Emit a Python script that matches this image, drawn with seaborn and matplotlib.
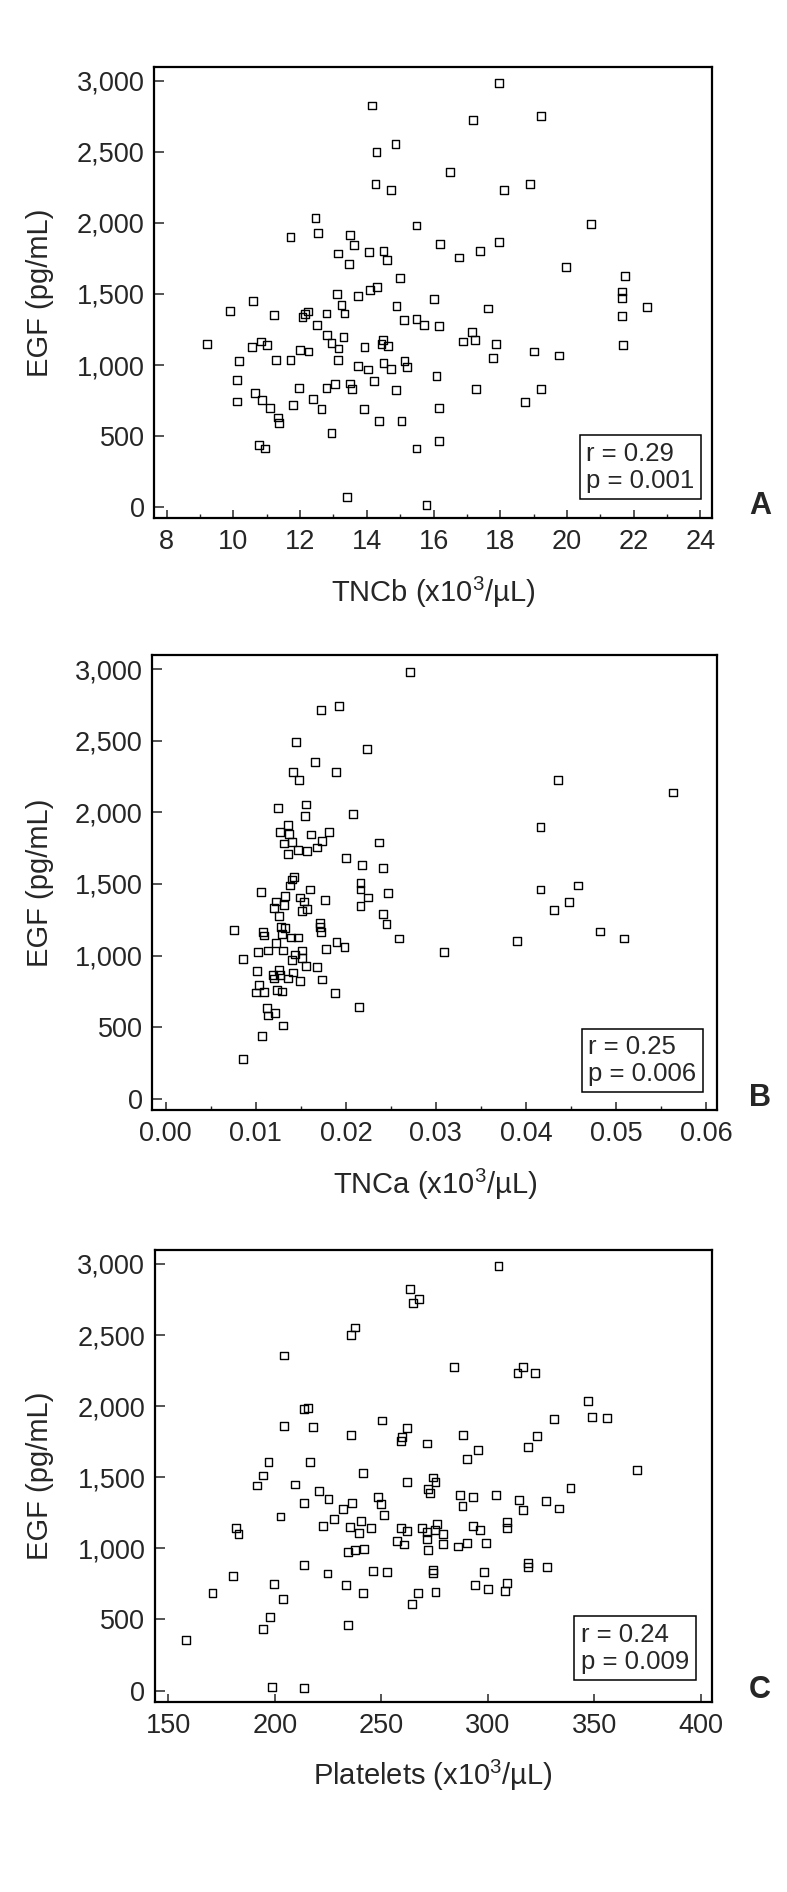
import matplotlib
matplotlib.use("Agg")
import matplotlib.pyplot as plt
import matplotlib.ticker as mticker
import seaborn as sns

# Panel A: TNCb vs EGF
tncb = [14.15, 14.29, 14.86, 14.26, 14.72, 12.46, 12.53, 11.71, 13.50, 13.62, 15.49, 13.14,
        14.06, 14.50, 14.60, 13.47, 14.99, 13.10, 14.10, 14.30, 13.73, 13.24, 14.89, 10.58,
        9.91, 11.21, 12.07, 12.24, 12.15, 12.79, 13.33, 15.11, 15.49, 12.50, 12.80, 13.30,
        9.20, 10.55, 10.82, 11.00, 12.94, 13.15, 13.93, 14.48, 14.44, 14.63, 12.00, 12.25,
        10.17, 11.28, 11.71, 13.14, 13.73, 14.03, 14.50, 14.72, 15.13, 15.21, 10.12, 10.65,
        10.85, 11.10, 10.12, 11.34, 11.37, 11.78, 11.97, 12.38, 12.64, 12.79, 13.04, 13.50,
        13.55, 14.22, 13.92, 14.87, 14.37, 15.04, 12.94, 10.76, 10.95, 15.49, 13.40,
        17.95, 17.17, 19.22, 16.50, 18.10, 18.89, 20.72, 16.20, 17.95, 16.76, 17.39, 19.97,
        21.73, 21.65, 21.65, 21.65, 21.69, 22.40, 16.01, 17.62, 15.71, 16.17, 17.16, 16.87,
        17.25, 17.88, 19.00, 19.75, 17.77, 16.09, 17.28, 19.22, 18.74, 16.16, 16.16, 15.79]
egf_a = [2825, 2501, 2553, 2276, 2232, 2035, 1927, 1901, 1917, 1845, 1981, 1784,
         1793, 1803, 1739, 1711, 1613, 1498, 1528, 1547, 1486, 1425, 1416, 1451,
         1381, 1352, 1336, 1376, 1359, 1362, 1362, 1317, 1324, 1280, 1209, 1200,
         1146, 1125, 1165, 1142, 1153, 1116, 1125, 1174, 1146, 1134, 1106, 1095,
         1029, 1038, 1038, 1038, 994, 968, 1013, 975, 1029, 987, 893, 806,
         755, 699, 743, 631, 593, 717, 841, 759, 689, 841, 867, 870,
         834, 886, 689, 825, 609, 609, 520, 438, 413, 413, 70,
         2984, 2724, 2752, 2356, 2232, 2276, 1990, 1854, 1863, 1756, 1803, 1692,
         1629, 1517, 1470, 1343, 1142, 1406, 1467, 1397, 1282, 1273, 1235, 1165,
         1174, 1146, 1095, 1067, 1048, 924, 832, 832, 741, 699, 466, 16]

# Panel B: TNCa vs EGF
tnca = [0.0271, 0.01723, 0.01926, 0.01449, 0.02233, 0.01656, 0.01416, 0.01475, 0.01889, 0.01242,
        0.0156, 0.01545, 0.02081, 0.01353, 0.01264, 0.01368, 0.01309, 0.01405, 0.01608, 0.01808,
        0.01734, 0.01678, 0.01464, 0.01571, 0.01353, 0.0237, 0.0200, 0.02181, 0.0241, 0.01427,
        0.01405, 0.01375, 0.01597, 0.01061, 0.02163, 0.02163, 0.02244, 0.02466, 0.01323, 0.0149,
        0.01227, 0.01316, 0.01205, 0.01538, 0.01564, 0.01516, 0.01767, 0.02163, 0.0241, 0.02451,
        0.01253, 0.00754, 0.01083, 0.01091, 0.01283, 0.0132, 0.01294, 0.01712, 0.01715, 0.01719,
        0.01386, 0.01464, 0.02591, 0.0122, 0.01131, 0.0102, 0.01305, 0.01896, 0.01985, 0.01778,
        0.01516, 0.01438, 0.01397, 0.01508, 0.00854, 0.01556, 0.01682, 0.01017, 0.01253, 0.0119,
        0.01272, 0.01412, 0.01197, 0.01353, 0.0149, 0.01734, 0.01035, 0.01002, 0.01091, 0.01238,
        0.01287, 0.01878, 0.01128, 0.01131, 0.01213, 0.01298, 0.02148, 0.01072, 0.00854,
        0.04358, 0.05635, 0.04162, 0.04162, 0.04579, 0.0448, 0.04314, 0.04823, 0.05085, 0.0390,
        0.03085]
egf_b = [2982, 2714, 2742, 2493, 2440, 2349, 2279, 2226, 2279, 2028,
         2054, 1977, 1986, 1914, 1863, 1847, 1782, 1791, 1845, 1863,
         1800, 1754, 1738, 1728, 1710, 1789, 1684, 1631, 1612, 1551,
         1531, 1489, 1461, 1442, 1507, 1461, 1405, 1435, 1417, 1405,
         1377, 1354, 1333, 1377, 1328, 1312, 1389, 1344, 1291, 1223,
         1277, 1177, 1165, 1140, 1200, 1193, 1151, 1230, 1200, 1165,
         1126, 1126, 1119, 1089, 1035, 1026, 1035, 1093, 1061, 1044,
         1035, 1007, 968, 982, 979, 928, 919, 893, 902, 863,
         863, 882, 840, 840, 823, 833, 795, 742, 747, 761,
         749, 740, 633, 582, 598, 512, 642, 440, 279,
         2226, 2138, 1898, 1461, 1489, 1372, 1317, 1168, 1119, 1100,
         1026]

# Panel C: Platelets vs EGF
platelets = [263.7, 264.8, 237.7, 235.8, 204.4, 213.8, 215.6, 204.4, 217.8, 235.8, 250.3, 262.1,
             259.9, 259.3, 197.1, 216.6, 194.6, 191.7, 241.6, 209.7, 262.0, 220.8, 225.3, 213.8,
             236.5, 232.0, 248.6, 249.8, 251.4, 202.7, 227.8, 222.5, 235.4, 240.6, 239.6, 245.3,
             259.3, 262.1, 181.7, 183.0, 257.3, 260.9, 234.6, 237.9, 241.8, 213.8, 180.6, 224.8,
             246.3, 252.6, 199.8, 233.5, 170.8, 203.8, 241.6, 197.6, 194.6, 234.4, 158.2, 198.7,
             213.8,
             267.6, 267.3, 264.5, 305.1, 284.1, 316.5, 314.0, 322.3, 347.0, 348.8, 355.9, 331.3,
             288.3, 271.5, 323.2, 319.0, 295.3, 290.2, 370.2, 274.5, 275.5, 272.0, 273.1, 338.9,
             287.2, 293.0, 288.2, 304.0, 314.8, 316.4, 327.3, 333.3, 269.0, 271.7, 276.3, 275.4,
             279.1, 271.5, 272.1, 279.0, 286.0, 290.3, 293.0, 296.6, 299.4, 309.2, 309.2, 274.5,
             274.5, 319.0, 319.0, 327.7, 298.3, 294.1, 300.0, 309.2, 308.1, 275.5]
egf_c = [2822, 2724, 2553, 2499, 2356, 1978, 1988, 1861, 1852, 1800, 1899, 1845,
         1781, 1756, 1610, 1610, 1512, 1442, 1531, 1449, 1467, 1404, 1350, 1322,
         1322, 1277, 1360, 1315, 1235, 1224, 1207, 1160, 1151, 1195, 1109, 1142,
         1144, 1125, 1142, 1099, 1050, 1027, 977, 987, 994, 884, 806, 823,
         839, 832, 750, 743, 687, 642, 687, 516, 436, 462, 356, 23,
         16,
         2754, 687, 607, 2984, 2274, 2276, 2234, 2234, 2037, 1922, 1917, 1908,
         1800, 1737, 1791, 1711, 1692, 1629, 1549, 1498, 1467, 1416, 1392, 1423,
         1378, 1360, 1301, 1378, 1341, 1270, 1334, 1280, 1142, 1118, 1174, 1128,
         1099, 1067, 987, 1029, 1013, 1036, 1160, 1132, 1038, 1184, 1146, 851,
         827, 895, 867, 870, 832, 743, 715, 759, 701, 696]

sns.set_style("ticks")
plt.rcParams['font.family'] = ['Liberation Sans', 'DejaVu Sans']
plt.rcParams['mathtext.fontset'] = 'custom'
plt.rcParams['mathtext.rm'] = 'Liberation Sans'
plt.rcParams['mathtext.it'] = 'Liberation Sans'

W, H = 787, 1892
fig = plt.figure(figsize=(W / 100, H / 100), dpi=100)


def make_axes(left, top, right, bottom):
    return fig.add_axes([left / W, 1 - bottom / H, (right - left) / W, (bottom - top) / H])


def draw_panel(ax, x, y, box_px, xlim, xticks, minor, xfmt, xlabel, stats, stats_pos, letter):
    left, top, right, bottom = box_px
    sns.scatterplot(x=x, y=y, ax=ax, marker='s', s=32, facecolor='none',
                    edgecolor='black', linewidth=1.0)
    ax.set_xlim(*xlim)
    ax.set_ylim(-78, 3098)
    ax.set_xticks(xticks)
    ax.set_yticks(range(0, 3001, 500))
    if minor:
        ax.xaxis.set_minor_locator(mticker.MultipleLocator(minor))
    ax.xaxis.set_major_formatter(mticker.FuncFormatter(lambda v, p: xfmt.format(v)))
    ax.yaxis.set_major_formatter(mticker.FuncFormatter(lambda v, p: f'{v:,.0f}'))
    ax.tick_params(axis='x', which='major', direction='in', length=6, width=1.1,
                   labelsize=19.5, pad=8)
    ax.tick_params(axis='x', which='minor', direction='in', length=3, width=1.0)
    ax.tick_params(axis='y', which='major', direction='in', length=7.5, width=1.1,
                   labelsize=19.5, pad=7)
    for sp in ax.spines.values():
        sp.set_visible(True)
        sp.set_linewidth(1.6)
        sp.set_color('black')
    h = bottom - top
    w = right - left
    ax.set_xlabel(xlabel, fontsize=21)
    ax.xaxis.label.set_va('center')
    ax.xaxis.set_label_coords(0.5, -74 / h)
    ax.set_ylabel('EGF (pg/mL)', fontsize=21)
    ax.yaxis.label.set_va('center')
    ax.yaxis.set_label_coords((40 - left) / w, 0.5)
    ax.text(stats_pos[0], stats_pos[1], stats, transform=ax.transAxes, ha='left', va='bottom',
            fontsize=18.5, linespacing=1.15,
            bbox=dict(boxstyle='square,pad=0.25', fc='white', ec='black', lw=1.1))
    fig.text(760 / W, 1 - (bottom - 12) / H, letter, fontsize=22, fontweight='bold',
             ha='center', va='center')


box_a = (154.3, 66.7, 711.5, 518.3)
ax_a = make_axes(*box_a)
draw_panel(ax_a, tncb, egf_a, box_a, (7.63, 24.33), range(8, 25, 2), 1, '{:.0f}',
           'TNCb (x10$^{\\mathrm{3}}$/µL)', 'r = 0.29\np = 0.001', (0.775, 0.057), 'A')

box_b = (152.3, 655.0, 717.3, 1110.0)
ax_b = make_axes(*box_b)
draw_panel(ax_b, tnca, egf_b, box_b, (-0.0015, 0.06125), [0, 0.01, 0.02, 0.03, 0.04, 0.05, 0.06],
           0.005, '{:.2f}', 'TNCa (x10$^{\\mathrm{3}}$/µL)', 'r = 0.25\np = 0.006', (0.772, 0.053), 'B')

box_c = (155.0, 1250.0, 711.7, 1701.7)
ax_c = make_axes(*box_c)
draw_panel(ax_c, platelets, egf_c, box_c, (143.8, 405.2), range(150, 401, 50), None, '{:.0f}',
           'Platelets (x10$^{\\mathrm{3}}$/µL)', 'r = 0.24\np = 0.009', (0.765, 0.062), 'C')

fig.savefig('out.png', dpi=100)
